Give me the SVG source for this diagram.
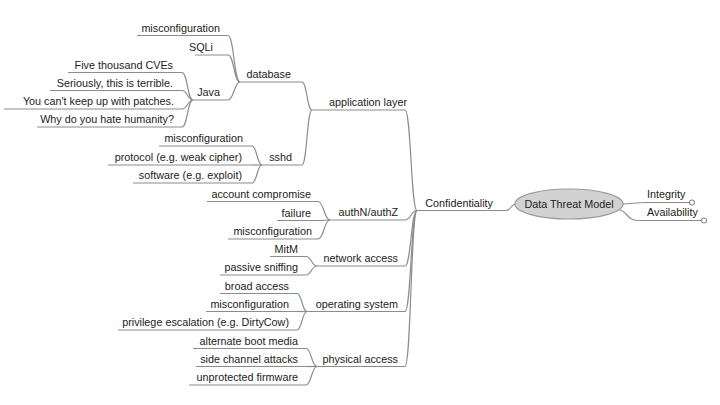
<svg xmlns="http://www.w3.org/2000/svg" width="720" height="405" viewBox="0 0 720 405">
<style>
text{font-family:"Liberation Sans","DejaVu Sans",Arial,sans-serif;font-size:10.8px;fill:#222;text-anchor:end}
.u,.c{stroke:#8c8c8c;stroke-width:1.2;fill:none}
.k{fill:#fff;stroke:#8c8c8c;stroke-width:1.1}
</style>
<rect width="720" height="405" fill="#fff"/>
<g id="connectors">
<path class="c" d="M228 35.5C234 35.5 234 82 240 82"/>
<path class="c" d="M228 55C234 55 234 82 240 82"/>
<path class="c" d="M228 100C234 100 234 82 240 82"/>
<path class="c" d="M182 72.5C187.5 72.5 187.5 100 193 100"/>
<path class="c" d="M182 90.5C187.5 90.5 187.5 100 193 100"/>
<path class="c" d="M182 109C187.5 109 187.5 100 193 100"/>
<path class="c" d="M182 127C187.5 127 187.5 100 193 100"/>
<path class="c" d="M302 82C307 82 307 110 312 110"/>
<path class="c" d="M302 165C307 165 307 110 312 110"/>
<path class="c" d="M252 146C257 146 257 165 262 165"/>
<path class="c" d="M252 165H262"/>
<path class="c" d="M252 183C257 183 257 165 262 165"/>
<path class="c" d="M405 110C411 110 411 210.5 417 210.5"/>
<path class="c" d="M405 220C411 220 411 210.5 417 210.5"/>
<path class="c" d="M405 266C411 266 411 210.5 417 210.5"/>
<path class="c" d="M405 311.5C411 311.5 411 210.5 417 210.5"/>
<path class="c" d="M405 366.5C411 366.5 411 210.5 417 210.5"/>
<path class="c" d="M318 201.5C324 201.5 324 220 330 220"/>
<path class="c" d="M318 220.5C324 220.5 324 220 330 220"/>
<path class="c" d="M318 239C324 239 324 220 330 220"/>
<path class="c" d="M306 256.5C311.5 256.5 311.5 266 317 266"/>
<path class="c" d="M306 275C311.5 275 311.5 266 317 266"/>
<path class="c" d="M297 293.5C302 293.5 302 311.5 307 311.5"/>
<path class="c" d="M297 311.5H307"/>
<path class="c" d="M297 330C302 330 302 311.5 307 311.5"/>
<path class="c" d="M306 348.5C311.5 348.5 311.5 366.5 317 366.5"/>
<path class="c" d="M306 366.5H317"/>
<path class="c" d="M306 385C311.5 385 311.5 366.5 317 366.5"/>
<path class="c" d="M506 210.5C511 210.5 511 204 516 204"/>
<path class="c" d="M622 204C632 204 635 202.5 645 202.5"/>
<path class="c" d="M620 210C628 212 627 220.5 638 220.5"/>
</g>
<g id="root">
<ellipse cx="569" cy="204" rx="54" ry="15" fill="#d2d2d2" stroke="#9a9a9a" stroke-width="1.2"/>
<text x="569" y="208" style="text-anchor:middle">Data Threat Model</text>
</g>
<g id="integrity"><path class="u" d="M645 202.5H689.5"/><circle class="k" cx="692" cy="202.5" r="2.5"/><text x="647" y="198" style="text-anchor:start">Integrity</text></g>
<g id="availability"><path class="u" d="M638 220.5H701.5"/><circle class="k" cx="704" cy="220.5" r="2.5"/><text x="647" y="216" style="text-anchor:start">Availability</text></g>
<g id="confidentiality"><path class="u" d="M417 210.5H506"/><text x="493" y="206.5">Confidentiality</text></g>
<g id="app-layer"><path class="u" d="M312 110H405"/><text x="407" y="106">application layer</text></g>
<g id="database"><path class="u" d="M240 82H302"/><text x="291" y="78">database</text></g>
<g id="db-misconfig"><path class="u" d="M137 35.5H228"/><text x="220" y="31.5">misconfiguration</text></g>
<g id="sqli"><path class="u" d="M195 55H228"/><text x="213" y="51">SQLi</text></g>
<g id="java"><path class="u" d="M193 100H228"/><text x="220" y="96">Java</text></g>
<g id="java-1"><path class="u" d="M68 72.5H182"/><text x="173" y="68.5">Five thousand CVEs</text></g>
<g id="java-2"><path class="u" d="M50 90.5H182"/><text x="173" y="86.5">Seriously, this is terrible.</text></g>
<g id="java-3"><path class="u" d="M4 109H182"/><text x="174" y="105">You can't keep up with patches.</text></g>
<g id="java-4"><path class="u" d="M37 127H182"/><text x="174" y="123">Why do you hate humanity?</text></g>
<g id="sshd"><path class="u" d="M262 165H302"/><text x="292" y="161">sshd</text></g>
<g id="sshd-1"><path class="u" d="M159 146H252"/><text x="243" y="142">misconfiguration</text></g>
<g id="sshd-2"><path class="u" d="M108 165H252"/><text x="242" y="161">protocol (e.g. weak cipher)</text></g>
<g id="sshd-3"><path class="u" d="M133 183H252"/><text x="242" y="179">software (e.g. exploit)</text></g>
<g id="authn"><path class="u" d="M330 220H405"/><text x="398" y="216">authN/authZ</text></g>
<g id="authn-1"><path class="u" d="M207 201.5H318"/><text x="311" y="197.5">account compromise</text></g>
<g id="authn-2"><path class="u" d="M277 220.5H318"/><text x="311" y="216.5">failure</text></g>
<g id="authn-3"><path class="u" d="M228 239H318"/><text x="312" y="235">misconfiguration</text></g>
<g id="network"><path class="u" d="M317 266H405"/><text x="398" y="262">network access</text></g>
<g id="network-1"><path class="u" d="M270 256.5H306"/><text x="298" y="252.5">MitM</text></g>
<g id="network-2"><path class="u" d="M220 275H306"/><text x="298" y="271">passive sniffing</text></g>
<g id="os"><path class="u" d="M307 311.5H405"/><text x="398" y="307.5">operating system</text></g>
<g id="os-1"><path class="u" d="M220 293.5H297"/><text x="289" y="289.5">broad access</text></g>
<g id="os-2"><path class="u" d="M206 311.5H297"/><text x="289" y="307.5">misconfiguration</text></g>
<g id="os-3"><path class="u" d="M118 330H297"/><text x="289" y="326">privilege escalation (e.g. DirtyCow)</text></g>
<g id="physical"><path class="u" d="M317 366.5H405"/><text x="398" y="362.5">physical access</text></g>
<g id="physical-1"><path class="u" d="M193 348.5H306"/><text x="298" y="344.5">alternate boot media</text></g>
<g id="physical-2"><path class="u" d="M196 366.5H306"/><text x="298" y="362.5">side channel attacks</text></g>
<g id="physical-3"><path class="u" d="M189 385H306"/><text x="298" y="381">unprotected firmware</text></g>
</svg>
